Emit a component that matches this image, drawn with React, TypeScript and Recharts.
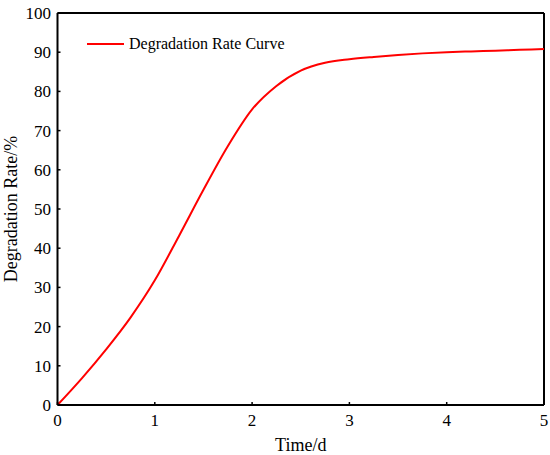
import React from 'react';
import { LineChart, Line, XAxis, YAxis, ReferenceLine, Legend } from 'recharts';

const timeDays = [0, 0.25, 0.5, 0.75, 1, 1.25, 1.5, 1.75, 2, 2.25, 2.5, 2.75, 3, 3.25, 3.5, 3.75, 4, 4.25, 4.5, 4.75, 5];
const degradationRate = [0, 6.8, 14.2, 22.3, 31.8, 43.2, 54.9, 66.0, 75.4, 81.4, 85.3, 87.3, 88.2, 88.8, 89.3, 89.7, 90.0, 90.2, 90.4, 90.6, 90.8];
const xTicks = [0, 1, 2, 3, 4, 5];
const yTicks = [0, 10, 20, 30, 40, 50, 60, 70, 80, 90, 100];

const data = timeDays.map((t, i) => ({ t, rate: degradationRate[i] }));

const FONT = '"Liberation Serif", "Times New Roman", serif';

const LegendContent = () => (
  <div style={{ display: 'flex', alignItems: 'center', fontFamily: FONT, fontSize: 16, color: '#000', whiteSpace: 'nowrap' }}>
    <svg width={37} height={4} style={{ marginRight: 5 }}>
      <line x1={0} y1={2} x2={37} y2={2} stroke="#ff0000" strokeWidth={2} />
    </svg>
    <span>Degradation Rate Curve</span>
  </div>
);

export default function App() {
  return (
    <div style={{ position: 'absolute', left: 0, top: 0, width: 550, height: 455, background: '#fff', fontFamily: FONT }}>
      <LineChart width={550} height={455} data={data} margin={{ top: 13, right: 6, bottom: 0, left: 0 }} style={{ fontFamily: FONT }}>
        <XAxis
          dataKey="t"
          type="number"
          domain={[0, 5]}
          ticks={xTicks}
          height={50}
          axisLine={{ stroke: '#000', strokeWidth: 2 }}
          tickLine={{ stroke: '#000', strokeWidth: 1.5 }}
          tickSize={-3}
          tickMargin={12}
          tick={{ fill: '#000', fontSize: 17, fontFamily: FONT }}
          label={{ value: 'Time/d', position: 'insideBottom', offset: 4, fill: '#000', fontSize: 18, fontFamily: FONT }}
        />
        <YAxis
          type="number"
          domain={[0, 100]}
          ticks={yTicks}
          width={57.5}
          axisLine={{ stroke: '#000', strokeWidth: 2 }}
          tickLine={{ stroke: '#000', strokeWidth: 1.5 }}
          tickSize={-3}
          tickMargin={9.5}
          tick={{ fill: '#000', fontSize: 17, fontFamily: FONT }}
          label={{ value: 'Degradation Rate/%', angle: -90, position: 'insideLeft', offset: 11, textAnchor: 'middle', fill: '#000', fontSize: 18, fontFamily: FONT }}
        />
        <ReferenceLine y={100} stroke="#000" strokeWidth={2} />
        <ReferenceLine x={5} stroke="#000" strokeWidth={2} />
        <Legend
          content={<LegendContent />}
          layout="horizontal"
          verticalAlign="middle"
          align="center"
          wrapperStyle={{ position: 'absolute', left: 87, top: 35, width: 'auto' }}
        />
        <Line
          type="monotone"
          dataKey="rate"
          stroke="#ff0000"
          strokeWidth={2}
          dot={false}
          isAnimationActive={false}
          legendType="line"
        />
      </LineChart>
    </div>
  );
}
